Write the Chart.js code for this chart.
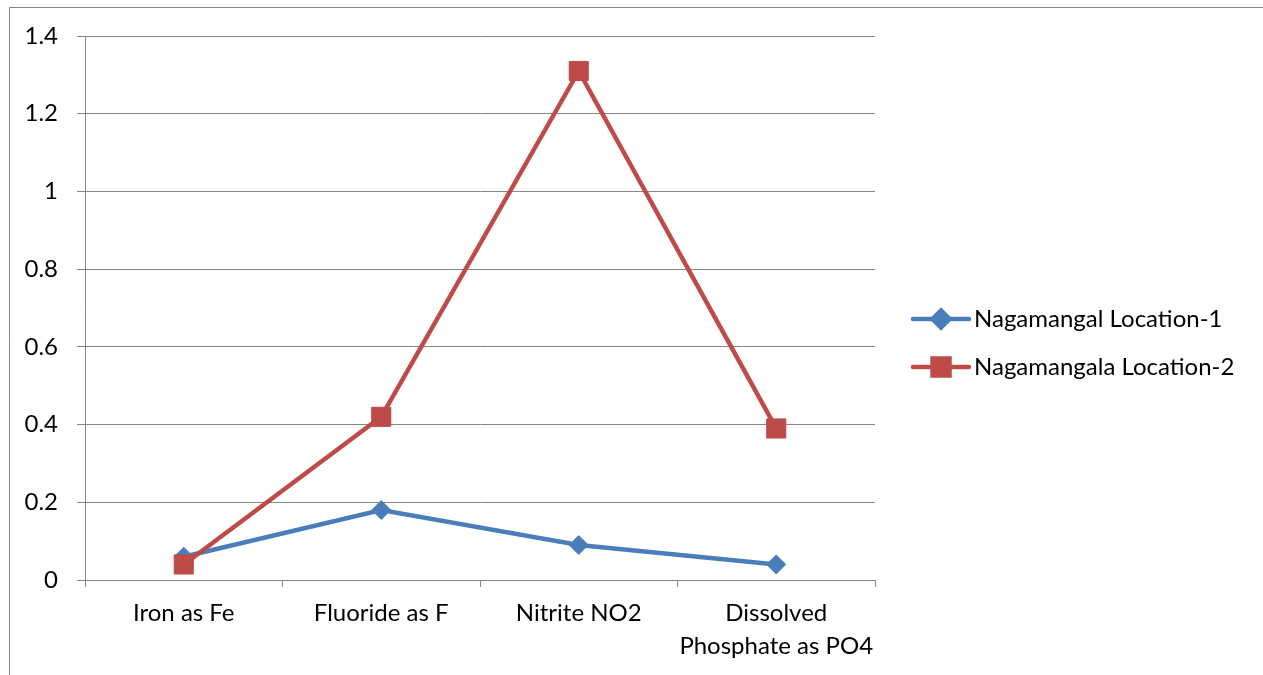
<!DOCTYPE html>
<html>
<head>
<meta charset="utf-8">
<title>Nagamangala water quality</title>
<script src="https://cdn.jsdelivr.net/npm/chart.js@4/dist/chart.umd.min.js"></script>
<style>
  html, body { margin: 0; padding: 0; background: #ffffff; }
  canvas { display: block; }
</style>
</head>
<body>
<canvas id="chart" width="1263" height="675"></canvas>
<script>
// Parameters measured at the two locations (mg/L)
const categories = ['Iron as Fe', 'Fluoride as F', 'Nitrite NO2', ['Dissolved', 'Phosphate as PO4']];
const location1 = [0.06, 0.18, 0.09, 0.04];
const location2 = [0.04, 0.42, 1.31, 0.39];
const seriesNames = ['Nagamangal Location-1', 'Nagamangala Location-2'];
const yTicks = [0, 0.2, 0.4, 0.6, 0.8, 1, 1.2, 1.4];

const GRID = '#868686';
const FONT = { family: 'Lato', size: 24 };
const BLUE = '#4A7EBB';
const RED = '#BE4B48';

// Thin frame along the top and left edge of the drawing
const framePlugin = {
  id: 'frame',
  beforeDraw(chart) {
    const ctx = chart.ctx;
    ctx.save();
    ctx.strokeStyle = GRID;
    ctx.lineWidth = 1;
    ctx.beginPath();
    ctx.moveTo(9.5, chart.height);
    ctx.lineTo(9.5, 7.5);
    ctx.lineTo(chart.width, 7.5);
    ctx.stroke();
    ctx.restore();
  }
};

// Legend with a line sample and the series marker in its middle
const lineLegendPlugin = {
  id: 'lineLegend',
  afterDraw(chart) {
    const ctx = chart.ctx;
    const x0 = 913, x1 = 969, textX = 974;
    ctx.save();
    chart.data.datasets.forEach((ds, i) => {
      const y = 319 + i * 48;
      ctx.strokeStyle = ds.borderColor;
      ctx.lineWidth = 4.5;
      ctx.lineCap = 'round';
      ctx.beginPath();
      ctx.moveTo(x0, y);
      ctx.lineTo(x1, y);
      ctx.stroke();
      Chart.helpers.drawPoint(ctx, {
        pointStyle: ds.pointStyle,
        radius: ds.pointStyle === 'rect' ? 12 : 8.5,
        rotation: 0,
        borderWidth: 1
      }, (x0 + x1) / 2, y);
      ctx.fillStyle = ds.backgroundColor;
      ctx.fill();
      ctx.fillStyle = '#000000';
      ctx.font = `${FONT.size}px ${FONT.family}`;
      ctx.textAlign = 'left';
      ctx.textBaseline = 'middle';
      ctx.fillText(ds.label, textX, y);
    });
    ctx.restore();
  }
};

new Chart(document.getElementById('chart'), {
  type: 'line',
  data: {
    labels: categories,
    datasets: [
      {
        label: seriesNames[0],
        data: location1,
        borderColor: BLUE,
        backgroundColor: BLUE,
        borderWidth: 4.5,
        tension: 0,
        pointStyle: 'rectRot',
        pointRadius: 9.5,
        pointBorderWidth: 1,
        pointBackgroundColor: BLUE,
        pointBorderColor: BLUE,
        order: 2
      },
      {
        label: seriesNames[1],
        data: location2,
        borderColor: RED,
        backgroundColor: RED,
        borderWidth: 4.5,
        tension: 0,
        pointStyle: 'rect',
        pointRadius: 13.5,
        pointBorderWidth: 1,
        pointBackgroundColor: RED,
        pointBorderColor: RED,
        order: 1
      }
    ]
  },
  options: {
    responsive: false,
    animation: false,
    devicePixelRatio: 1,
    layout: { padding: { top: 36, right: 388, bottom: 0, left: 0 } },
    plugins: {
      legend: { display: false },
      tooltip: { enabled: false }
    },
    scales: {
      x: {
        type: 'category',
        offset: true,
        grid: {
          display: true,
          offset: true,
          drawOnChartArea: false,
          drawTicks: true,
          tickLength: 7,
          color: GRID,
          lineWidth: 1
        },
        border: { display: true, color: GRID, width: 1 },
        ticks: {
          font: { ...FONT, lineHeight: '33px' },
          color: '#000000',
          padding: 10,
          maxRotation: 0,
          autoSkip: false
        },
        afterFit(scale) { scale.height = 95; }
      },
      y: {
        min: 0,
        max: 1.4,
        grid: {
          color: GRID,
          lineWidth: 1,
          drawTicks: true,
          tickLength: 8
        },
        border: { display: true, color: GRID, width: 1 },
        ticks: {
          font: FONT,
          color: '#000000',
          padding: 19,
          callback: (v) => String(v)
        },
        afterBuildTicks(scale) { scale.ticks = yTicks.map(v => ({ value: v })); },
        afterFit(scale) { scale.width = 85; }
      }
    }
  },
  plugins: [framePlugin, lineLegendPlugin]
});
</script>
</body>
</html>
